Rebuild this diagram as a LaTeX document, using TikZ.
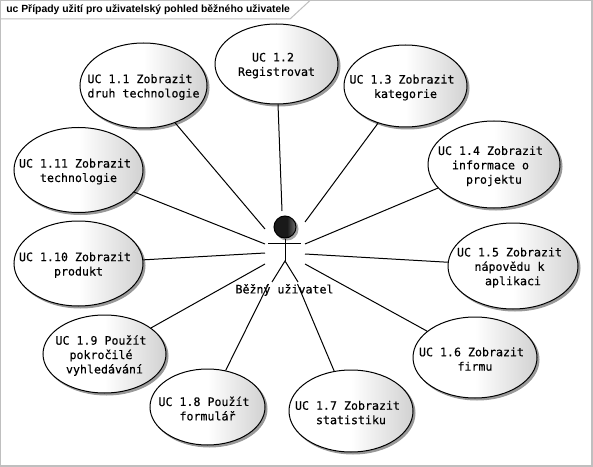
\documentclass[tikz,border=0pt]{standalone}
\usepackage{fontspec}
\setmainfont{Liberation Sans}
\newfontfamily\ucmono[FakeBold=0.5]{DejaVu Sans Mono}
\usetikzlibrary{shapes.geometric,shadows}
\pgfdeclarehorizontalshading{ucshade}{100bp}{color(0bp)=(white); color(50bp)=(white); color(75bp)=(white!82!black); color(100bp)=(white!82!black)}
\pgfdeclarehorizontalshading{headshade}{100bp}{color(0bp)=(black!90); color(55bp)=(black!90); color(75bp)=(black!55); color(100bp)=(black!55)}
\newcommand\ts{\hphantom{x}}
\tikzset{
  x=0.75pt,y=-0.75pt,
  ucase/.style={ellipse,draw=black,line width=0.75pt,inner sep=0pt,shade,shading=ucshade,
    copy shadow={shadow xshift=1.5pt,shadow yshift=-1.5pt,fill=black!40,draw=black!40},
    label={[uctext,yshift=-1.2pt]center:#1}},
  ucsize/.style 2 args={minimum width=#1*0.75pt,minimum height=#2*0.75pt},
  uctext/.style={font=\ucmono\fontsize{8.72pt}{10.8pt}\selectfont,align=center,text=black,inner sep=0pt},
  conn/.style={draw=black,line width=0.75pt},
  stick/.style={draw=black,line width=0.75pt},
  frameline/.style={draw=black!25,line width=1.1pt},
}
\begin{document}
\begin{tikzpicture}
\useasboundingbox (0,0) rectangle (593,467);
\fill[white] (0,0) rectangle (593,467);
\draw[frameline] (0.5,0.5) rectangle (592,466);
\draw[frameline,line width=0.75pt] (0.5,19) -- (290,19) -- (310,0.5);
\node[anchor=west,font=\bfseries\fontsize{7.8pt}{10pt}\selectfont,inner sep=0pt] (title) at (6,10) {uc Případy užití pro uživatelský pohled běžného uživatele};

\node[ucase={UC 1.1 Zobrazit\ts\\druh technologie},ucsize={127}{85}] (u1) at (143.5,85.5) {};
\node[ucase={UC 1.2\ts\\Registrovat},ucsize={123}{80}] (u2) at (276.5,64) {};
\node[ucase={UC 1.3 Zobrazit\ts\\kategorie},ucsize={123}{82}] (u3) at (405.5,86) {};
\node[ucase={UC 1.4 Zobrazit\ts\\informace o\ts\\projektu},ucsize={132}{87}] (u4) at (494,164.5) {};
\node[ucase={UC 1.5 Zobrazit\ts\\nápovědu k\ts\\aplikaci},ucsize={130}{86}] (u5) at (513,266) {};
\node[ucase={UC 1.6 Zobrazit\ts\\firmu},ucsize={124}{81}] (u6) at (475,357.5) {};
\node[ucase={UC 1.7 Zobrazit\ts\\statistiku},ucsize={124}{82}] (u7) at (351,411) {};
\node[ucase={UC 1.8 Použít\ts\\formulář},ucsize={115}{76}] (u8) at (207.5,407) {};
\node[ucase={UC 1.9 Použít\ts\\pokročilé\ts\\vyhledávání},ucsize={123}{78}] (u9) at (104.5,354) {};
\node[ucase={UC 1.10 Zobrazit\ts\\produkt},ucsize={129}{85}] (u10) at (78.5,263.5) {};
\node[ucase={UC 1.11 Zobrazit\ts\\technologie},ucsize={129}{85}] (u11) at (78.5,170) {};

\coordinate (a1) at (265,229);
\coordinate (a2) at (282,211);
\coordinate (a3) at (305,222);
\coordinate (a4) at (305,244);
\coordinate (a5) at (305,254);
\coordinate (a6) at (305,264);
\coordinate (a7) at (297.5,284);
\coordinate (a8) at (268.5,284);
\coordinate (a9) at (265,264);
\coordinate (a10) at (265,253);
\coordinate (a11) at (265,244);
\foreach \i in {1,...,11} {\draw[conn] (u\i) -- (a\i);}

\node[circle,minimum size=16.5pt,inner sep=0pt,shade,shading=headshade,draw=black,line width=0.75pt,
  copy shadow={shadow xshift=1.5pt,shadow yshift=-1.5pt,fill=black!35,draw=black!35}] (head) at (285,227) {};
\coordinate (hip) at (285,261);
\coordinate (shl) at (268,243);
\coordinate (shr) at (301,243);
\coordinate (footl) at (272,282);
\coordinate (footr) at (298,282);
\draw[stick] (head) -- (hip);
\draw[stick] (shl) -- (shr);
\draw[stick] (footl) -- (hip) -- (footr);
\node[uctext] (actor) at (284.5,290) {Běžný uživatel};
\end{tikzpicture}
\end{document}
